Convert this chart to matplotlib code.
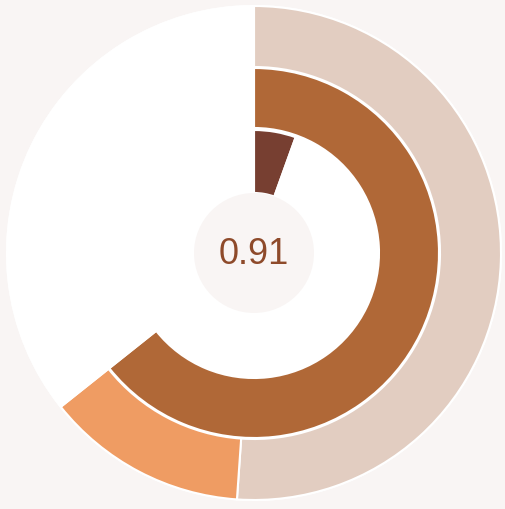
import matplotlib.pyplot as plt
from matplotlib.patches import Circle

# Ring values (fraction of a full turn), drawn clockwise from 12 o'clock
outer_values = [0.511, 0.132]
outer_colors = ['#e2cdc1', '#ef9c63']
middle_values = [0.643]
middle_colors = ['#b06837']
inner_values = [0.055]
inner_colors = ['#773f31']
center_label = '0.91'

bg = '#f9f5f4'
plt.rcParams['font.family'] = ['Liberation Sans', 'DejaVu Sans']

fig = plt.figure(figsize=(5.06, 5.09), dpi=100, facecolor=bg)
ax = fig.add_axes([0, 0, 1, 1])

cx, cy = 254, 256

# white track behind the rings
ax.add_patch(Circle((cx, cy), 248, facecolor='white', edgecolor='none'))


def ring(values, colors, radius, width):
    rest = max(0.0, 1 - sum(values))
    ax.pie(values + [rest], colors=colors + ['none'], radius=radius, center=(cx, cy),
           startangle=90, counterclock=False, normalize=False, frame=True,
           wedgeprops=dict(width=width, edgecolor='white', linewidth=1.5))


ring(outer_values, outer_colors, 247, 61)
ring(middle_values, middle_colors, 185, 60)
ring(inner_values, inner_colors, 123, 63)

ax.set_xlim(0, 506)
ax.set_ylim(0, 509)
ax.set_aspect('equal')
ax.axis('off')

# centre disc with the value
ax.add_patch(Circle((cx, cy), 60, facecolor=bg, edgecolor='none', zorder=5))
ax.text(cx, cy - 1, center_label, ha='center', va='center', fontsize=26,
        color='#8e4a2a', zorder=6)

fig.savefig('out.png', dpi=100, facecolor=bg)
